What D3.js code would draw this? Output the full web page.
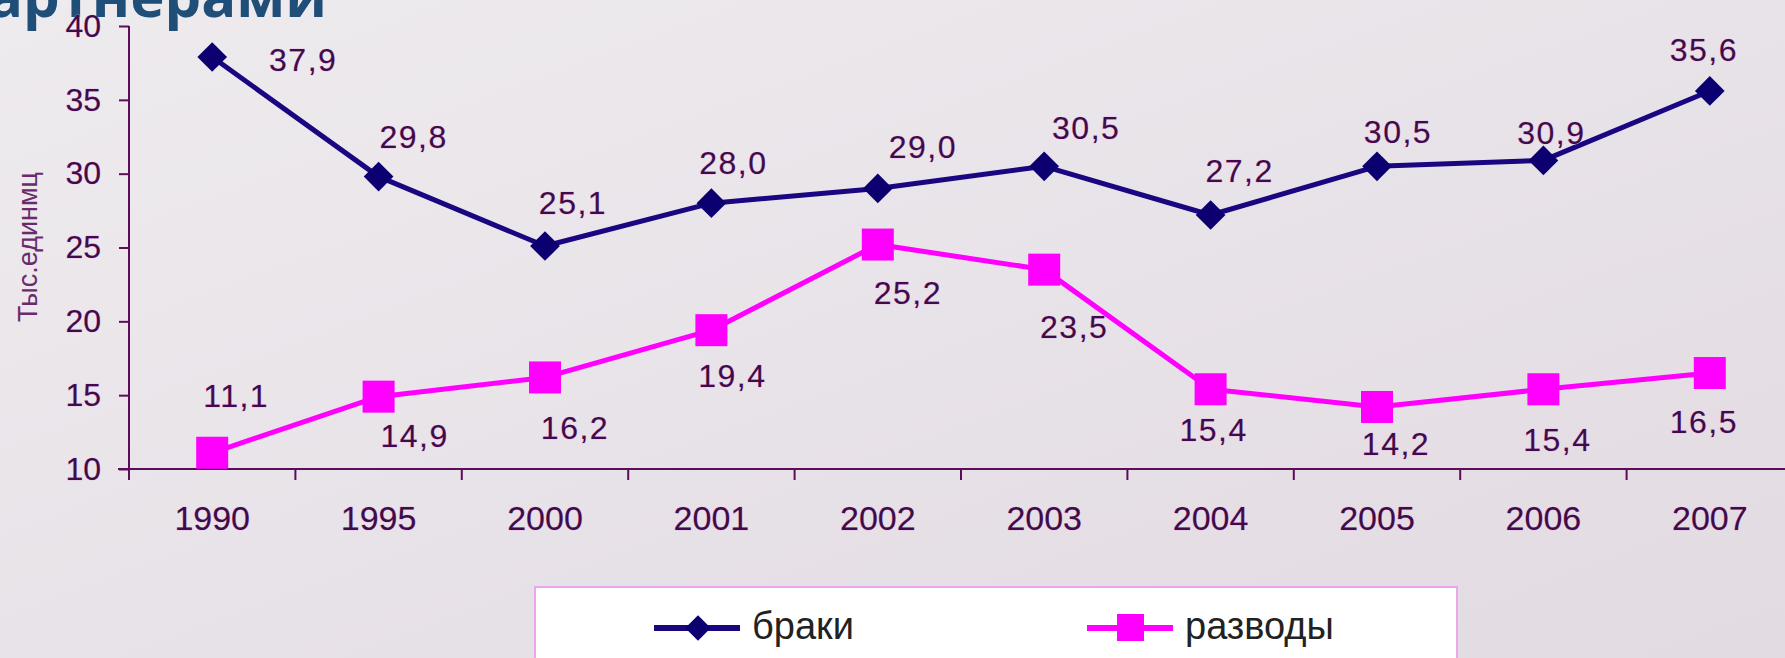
<!DOCTYPE html>
<html><head><meta charset="utf-8">
<script src="https://cdn.jsdelivr.net/npm/d3@7"></script>
<style>
html,body{margin:0;padding:0;overflow:hidden;}
svg{display:block;}
</style></head>
<body>
<svg id="chart" width="1785" height="658"></svg>
<script>
// ---- data ----
const categories = ["1990","1995","2000","2001","2002","2003","2004","2005","2006","2007"];
const braki   = [37.9, 29.8, 25.1, 28.0, 29.0, 30.5, 27.2, 30.5, 30.9, 35.6];
const razvody = [11.1, 14.9, 16.2, 19.4, 25.2, 23.5, 15.4, 14.2, 15.4, 16.5];
const yTicks = [10, 15, 20, 25, 30, 35, 40];
const seriesNames = ["браки", "разводы"];
const yAxisTitle = "Тыс.единмц";
const titleText = "партнерами";

// ---- layout (label nudges relative to each point, px) ----
const brakiLabelNudge   = [[91,3],[35,-40],[28,-43],[22,-40],[45,-42],[42,-38],[29,-44],[21,-34],[8,-28],[-6,-41]];
const razvodyLabelNudge = [[24,-57],[36,39],[30,50],[21,46],[30,48],[30,57],[3,41],[19,37],[14,51],[-6,49]];

const svg = d3.select("#chart");
const W = 1785, H = 658;

// background gradient
const defs = svg.append("defs");
const bg = defs.append("linearGradient").attr("id","bg").attr("x1","0").attr("y1","0").attr("x2","1").attr("y2","1");
bg.append("stop").attr("offset","0%").attr("stop-color","#eeebee");
bg.append("stop").attr("offset","100%").attr("stop-color","#e2dbe2");
svg.append("rect").attr("width",W).attr("height",H).attr("fill","url(#bg)");

// title fragment (cut off at top)
svg.append("text").attr("x",327).attr("y",17).attr("text-anchor","end")
  .attr("font-family","'Open Sans', sans-serif").attr("font-weight","bold").attr("font-size",58)
  .attr("fill","#1f4e79").text(titleText);

const plot = {left:129, right:1793, top:26, bottom:469};
const x = d3.scaleBand().domain(categories).range([plot.left, plot.right]).padding(0);
const y = d3.scaleLinear().domain([10,40]).range([plot.bottom, plot.top]);
const cx = c => x(c) + x.bandwidth()/2;

const axisColor = "#5c0c5c";
const textColor = "#3e0c46";
const haloColor = "#e9a0e9";

// y axis
const yAxis = svg.append("g").attr("transform",`translate(${plot.left},0)`)
  .call(d3.axisLeft(y).tickValues(yTicks).tickSize(10).tickPadding(18).tickFormat(d3.format("d")));
yAxis.select(".domain").attr("stroke",axisColor).attr("stroke-width",2).attr("d",`M0,${plot.top}V${plot.bottom+11}`);
yAxis.selectAll(".tick line").attr("stroke",axisColor).attr("stroke-width",2);
yAxis.selectAll(".tick text").attr("font-family","'Liberation Sans', Arial, sans-serif").attr("font-size",32)
  .attr("fill",textColor).attr("stroke",haloColor).attr("stroke-width",0.7).attr("paint-order","stroke");

// x axis labels
const xAxis = svg.append("g").attr("transform",`translate(0,${plot.bottom})`)
  .call(d3.axisBottom(x).tickSize(0).tickPadding(37));
xAxis.select(".domain").attr("stroke",axisColor).attr("stroke-width",2).attr("d",`M${plot.left-11},0H${plot.right}`);
xAxis.selectAll(".tick text").attr("font-family","'Liberation Sans', Arial, sans-serif").attr("font-size",34)
  .attr("fill",textColor).attr("stroke",haloColor).attr("stroke-width",0.7).attr("paint-order","stroke");
// boundary ticks
svg.append("g").selectAll("line").data(categories).join("line")
  .attr("x1",d=>x(d)).attr("x2",d=>x(d)).attr("y1",plot.bottom).attr("y2",plot.bottom+11)
  .attr("stroke",axisColor).attr("stroke-width",2);

// y axis title
svg.append("text").attr("transform","translate(28,247) rotate(-90)").attr("text-anchor","middle")
  .attr("dy","0.35em").attr("font-family","'Liberation Sans', Arial, sans-serif").attr("font-size",27)
  .attr("fill","#6a2a6e").text(yAxisTitle);

const fmt = v => d3.format(".1f")(v).replace(".", ",");

const brakiColor = "#1a0680", razvodyColor = "#ff00ff";
const line = d3.line().x((d,i)=>cx(categories[i])).y(d=>y(d));

svg.append("path").datum(razvody).attr("d",line).attr("fill","none")
  .attr("stroke",razvodyColor).attr("stroke-width",5).attr("stroke-linejoin","round");
svg.append("path").datum(braki).attr("d",line).attr("fill","none")
  .attr("stroke",brakiColor).attr("stroke-width",5).attr("stroke-linejoin","round");

const diamond = d3.symbol().type(d3.symbolSquare).size(21*21);
svg.append("g").selectAll("path").data(braki).join("path")
  .attr("d",diamond)
  .attr("transform",(d,i)=>`translate(${cx(categories[i])},${y(d)}) rotate(45)`)
  .attr("fill","#0c0070");
svg.append("g").selectAll("rect").data(razvody).join("rect")
  .attr("x",(d,i)=>cx(categories[i])-16).attr("y",d=>y(d)-16)
  .attr("width",32).attr("height",32).attr("fill",razvodyColor);

// data labels
function labels(data, nudge){
  svg.append("g").selectAll("text").data(data).join("text")
    .attr("x",(d,i)=>cx(categories[i])+nudge[i][0])
    .attr("y",(d,i)=>y(d)+nudge[i][1])
    .attr("dy","0.35em").attr("text-anchor","middle")
    .attr("font-family","'Liberation Sans', Arial, sans-serif").attr("font-size",32)
    .attr("letter-spacing",1.5)
    .attr("fill",textColor).attr("stroke",haloColor).attr("stroke-width",0.7).attr("paint-order","stroke")
    .text(d=>fmt(d));
}
labels(braki, brakiLabelNudge);
labels(razvody, razvodyLabelNudge);

// legend
const lg = svg.append("g");
lg.append("rect").attr("x",535).attr("y",587).attr("width",922).attr("height",100)
  .attr("fill","#ffffff").attr("stroke","#eaa8ea").attr("stroke-width",2);
const legendItems = [
  {name:seriesNames[0], color:brakiColor, x0:654, marker:"diamond"},
  {name:seriesNames[1], color:razvodyColor, x0:1087, marker:"square"}
];
const ly = 628;
legendItems.forEach(it=>{
  lg.append("line").attr("x1",it.x0).attr("x2",it.x0+86).attr("y1",ly).attr("y2",ly)
    .attr("stroke",it.color).attr("stroke-width",6);
  if(it.marker==="diamond"){
    lg.append("path").attr("d",d3.symbol().type(d3.symbolSquare).size(18*18))
      .attr("transform",`translate(${it.x0+44},${ly}) rotate(45)`).attr("fill","#0c0070");
  } else {
    lg.append("rect").attr("x",it.x0+44-14).attr("y",ly-14).attr("width",27).attr("height",27).attr("fill",it.color);
  }
  lg.append("text").attr("x",it.x0+98).attr("y",ly+11)
    .attr("font-family","'Liberation Sans', Arial, sans-serif").attr("font-size",38)
    .attr("fill","#222222").text(it.name);
});
</script>
</body></html>
